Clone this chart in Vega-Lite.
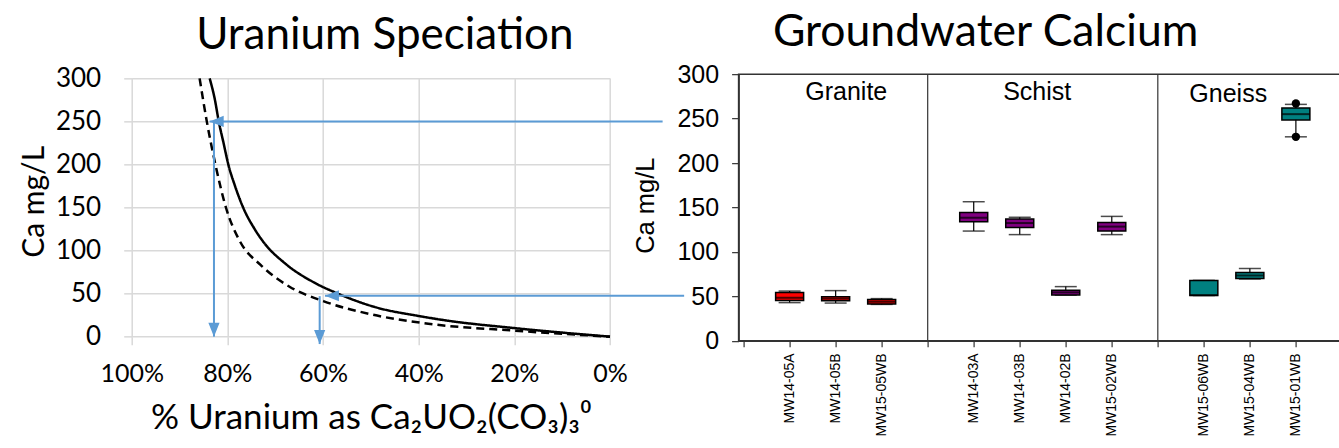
{
  "$schema": "https://vega.github.io/schema/vega-lite/v6.json",
  "autosize": {"type": "none"},
  "padding": {"left": 131.7, "top": 74, "right": 1207.3, "bottom": 374},
  "background": "white",
  "spacing": 127.9,
  "bounds": "flush",
  "center": true,
  "config": {"font": "Lato", "view": {"stroke": null}},
  "datasets": {
    "curves": [
      {"series": "solid", "pct": 83.7, "ca": 300},
      {"series": "solid", "pct": 82.6, "ca": 275},
      {"series": "solid", "pct": 81.8, "ca": 250},
      {"series": "solid", "pct": 80.8, "ca": 225},
      {"series": "solid", "pct": 79.8, "ca": 200},
      {"series": "solid", "pct": 78.4, "ca": 175},
      {"series": "solid", "pct": 76.7, "ca": 150},
      {"series": "solid", "pct": 74.3, "ca": 125},
      {"series": "solid", "pct": 72.6, "ca": 111},
      {"series": "solid", "pct": 67.7, "ca": 84},
      {"series": "solid", "pct": 61.9, "ca": 63},
      {"series": "solid", "pct": 56.9, "ca": 50},
      {"series": "solid", "pct": 48.9, "ca": 34},
      {"series": "solid", "pct": 40, "ca": 24},
      {"series": "solid", "pct": 34.5, "ca": 19},
      {"series": "solid", "pct": 20.1, "ca": 10},
      {"series": "solid", "pct": 0, "ca": 0},
      {"series": "dashed", "pct": 85.8, "ca": 300},
      {"series": "dashed", "pct": 84.3, "ca": 250},
      {"series": "dashed", "pct": 82.5, "ca": 200},
      {"series": "dashed", "pct": 80.3, "ca": 150},
      {"series": "dashed", "pct": 77.4, "ca": 111},
      {"series": "dashed", "pct": 73, "ca": 83},
      {"series": "dashed", "pct": 67, "ca": 58},
      {"series": "dashed", "pct": 59.8, "ca": 41},
      {"series": "dashed", "pct": 50, "ca": 26},
      {"series": "dashed", "pct": 38, "ca": 15},
      {"series": "dashed", "pct": 20.1, "ca": 7},
      {"series": "dashed", "pct": 0, "ca": 0}
    ],
    "arrowlines": [
      {"pct": -11, "pct2": 83.7, "ca": 250, "ca2": 250},
      {"pct": -15.5, "pct2": 59.6, "ca": 47.5, "ca2": 47.5},
      {"pct": 82.8, "pct2": 82.8, "ca": 250, "ca2": 0},
      {"pct": 60.7, "pct2": 60.7, "ca": 47, "ca2": -8.6}
    ],
    "heads": [
      {"pct": 83.7, "ca": 250, "dir": "left"},
      {"pct": 59.6, "ca": 47.5, "dir": "left"},
      {"pct": 82.8, "ca": 0, "dir": "down"},
      {"pct": 60.7, "ca": -8.6, "dir": "down"}
    ],
    "boxes": [
      {"well": "MW14-05A", "pos": 1, "rock": "Granite", "min": 43, "q1": 45.5, "med": 48.5, "q3": 54.5, "max": 56},
      {"well": "MW14-05B", "pos": 2, "rock": "Granite", "min": 42.5, "q1": 45, "med": 47.5, "q3": 49.5, "max": 56.5},
      {"well": "MW15-05WB", "pos": 3, "rock": "Granite", "min": 41, "q1": 41.5, "med": 44, "q3": 46.5, "max": 47.5},
      {"well": "MW14-03A", "pos": 5, "rock": "Schist", "min": 123.5, "q1": 134, "med": 138.5, "q3": 144.5, "max": 156.5},
      {"well": "MW14-03B", "pos": 6, "rock": "Schist", "min": 119.5, "q1": 127.5, "med": 132.5, "q3": 137, "max": 139},
      {"well": "MW14-02B", "pos": 7, "rock": "Schist", "min": 51.5, "q1": 51.7, "med": 54.5, "q3": 57, "max": 61},
      {"well": "MW15-02WB", "pos": 8, "rock": "Schist", "min": 119.5, "q1": 123.5, "med": 128.5, "q3": 133, "max": 140},
      {"well": "MW15-06WB", "pos": 10, "rock": "Gneiss", "min": 51, "q1": 51, "med": 51.5, "q3": 68, "max": 68},
      {"well": "MW15-04WB", "pos": 11, "rock": "Gneiss", "min": 69.5, "q1": 70, "med": 73.5, "q3": 77, "max": 81.5},
      {"well": "MW15-01WB", "pos": 12, "rock": "Gneiss", "min": 229.5, "q1": 248.5, "med": 255, "q3": 262, "max": 266}
    ],
    "outliers": [
      {"pos": 12, "val": 267},
      {"pos": 12, "val": 229.5}
    ],
    "seps": [{"pos": 4}, {"pos": 9}],
    "panels": [
      {"rock": "Granite", "pos": 2.23, "val": 271},
      {"rock": "Schist", "pos": 6.38, "val": 271},
      {"rock": "Gneiss", "pos": 10.53, "val": 269}
    ]
  },
  "hconcat": [
    {
      "width": 478.3,
      "height": 258.3,
      "title": {"text": "Uranium Speciation", "font": "Lato", "fontSize": 44, "fontWeight": "normal", "color": "black", "anchor": "middle", "frame": "group", "dx": 14, "offset": 7},
      "layer": [
        {
          "data": {"name": "curves"},
          "mark": {"type": "line", "interpolate": "monotone", "strokeWidth": 2.5, "color": "black"},
          "encoding": {
            "x": {"field": "pct", "type": "quantitative", "title": "% Uranium as Ca₂UO₂(CO₃)₃⁰",
              "scale": {"domain": [0, 100], "reverse": true, "nice": false},
              "axis": {"values": [0, 20, 40, 60, 80, 100], "labelExpr": "datum.value + '%'", "labelFlush": false, "labelOverlap": false,
                "grid": true, "gridColor": "#d9d9d9", "gridWidth": 1.5, "domain": false,
                "tickColor": "#d9d9d9", "tickWidth": 1.5, "tickSize": 8,
                "labelFont": "Lato", "labelFontSize": 25, "labelColor": "black", "labelBaseline": "alphabetic", "labelPadding": 37,
                "titleFont": "Lato", "titleFontSize": 35, "titleFontWeight": "normal", "titleColor": "black",
                "titleBaseline": "alphabetic", "titleY": 92}},
            "y": {"field": "ca", "type": "quantitative", "title": "Ca mg/L",
              "scale": {"domain": [0, 300], "nice": false},
              "axis": {"values": [0, 50, 100, 150, 200, 250, 300], "labelOverlap": false,
                "grid": true, "gridColor": "#d9d9d9", "gridWidth": 1.5, "domain": false,
                "tickColor": "#d9d9d9", "tickWidth": 1.5, "tickSize": 8,
                "labelFont": "Lato", "labelFontSize": 26, "labelColor": "black", "labelPadding": 23,
                "titleFont": "Lato", "titleFontSize": 30, "titleFontWeight": "normal", "titleColor": "black",
                "titleBaseline": "alphabetic", "titleAlign": "center", "titleX": -88.4, "titleY": 123}},
            "strokeDash": {"field": "series", "type": "nominal", "scale": {"domain": ["solid", "dashed"], "range": [[1, 0], [8, 5]]}, "legend": null}
          }
        },
        {
          "data": {"name": "arrowlines"},
          "mark": {"type": "rule", "color": "#5b9bd5", "strokeWidth": 2},
          "encoding": {
            "x": {"field": "pct", "type": "quantitative", "title": "% Uranium as Ca₂UO₂(CO₃)₃⁰"},
            "x2": {"field": "pct2"},
            "y": {"field": "ca", "type": "quantitative", "title": "Ca mg/L"},
            "y2": {"field": "ca2"}
          }
        },
        {
          "data": {"name": "heads"},
          "transform": [{"filter": "datum.dir === 'left'"}],
          "mark": {"type": "point", "filled": true, "opacity": 1, "color": "#5b9bd5", "shape": "M-1,0L1,-0.8L1,0.8Z", "size": 196, "xOffset": 7},
          "encoding": {
            "x": {"field": "pct", "type": "quantitative", "title": "% Uranium as Ca₂UO₂(CO₃)₃⁰"},
            "y": {"field": "ca", "type": "quantitative", "title": "Ca mg/L"}
          }
        },
        {
          "data": {"name": "heads"},
          "transform": [{"filter": "datum.dir === 'down'"}],
          "mark": {"type": "point", "filled": true, "opacity": 1, "color": "#5b9bd5", "shape": "M0,1L-0.8,-1L0.8,-1Z", "size": 196, "yOffset": -7},
          "encoding": {
            "x": {"field": "pct", "type": "quantitative", "title": "% Uranium as Ca₂UO₂(CO₃)₃⁰"},
            "y": {"field": "ca", "type": "quantitative", "title": "Ca mg/L"}
          }
        }
      ]
    },
    {
      "width": 602,
      "height": 266.7,
      "title": {"text": "Groundwater Calcium", "font": "Lato", "fontSize": 44.5, "fontWeight": "normal", "color": "black", "anchor": "middle", "frame": "group", "dx": -54, "offset": 7},
      "view": {"stroke": "#333", "strokeWidth": 1.5},
      "layer": [
        {
          "data": {"name": "seps"},
          "mark": {"type": "rule", "color": "#333", "strokeWidth": 1.2},
          "encoding": {
            "x": {"field": "pos", "type": "quantitative", "title": null,
              "scale": {"domain": [0, 12.863], "nice": false, "zero": false},
              "axis": {"values": [0, 1, 2, 3, 4, 5, 6, 7, 8, 9, 10, 11, 12],
                "labelExpr": "['', 'MW14-05A', 'MW14-05B', 'MW15-05WB', '', 'MW14-03A', 'MW14-03B', 'MW14-02B', 'MW15-02WB', '', 'MW15-06WB', 'MW15-04WB', 'MW15-01WB'][datum.value]",
                "labelAngle": 270, "labelFont": "Liberation Sans", "labelFontSize": 14, "labelColor": "black", "labelPadding": 6,
                "labelFlush": false, "labelOverlap": false, "grid": false,
                "domainColor": "#333", "domainWidth": 1.5, "tickColor": "#333", "tickWidth": 1.2, "tickSize": 6}}
          }
        },
        {
          "data": {"name": "boxes"},
          "mark": {"type": "rule", "color": "black", "strokeWidth": 1.2},
          "encoding": {
            "x": {"field": "pos", "type": "quantitative", "title": null},
            "y": {"field": "min", "type": "quantitative", "title": "Ca mg/L",
              "scale": {"domain": [0, 300], "nice": false},
              "axis": {"values": [0, 50, 100, 150, 200, 250, 300], "labelOverlap": false, "grid": false,
                "domainColor": "#333", "domainWidth": 1.5, "tickColor": "#333", "tickWidth": 1.2, "tickSize": 7,
                "labelFont": "Liberation Sans", "labelFontSize": 25, "labelColor": "black", "labelPadding": 13,
                "titleFont": "Liberation Sans", "titleFontSize": 25.5, "titleFontWeight": "normal", "titleColor": "black",
                "titleBaseline": "alphabetic", "titleAlign": "center", "titleX": -85.3, "titleY": 131}},
            "y2": {"field": "max"}
          }
        },
        {
          "data": {"name": "boxes"},
          "mark": {"type": "tick", "orient": "horizontal", "color": "black", "size": 22, "thickness": 1.5},
          "encoding": {
            "x": {"field": "pos", "type": "quantitative", "title": null},
            "y": {"field": "min", "type": "quantitative", "title": "Ca mg/L"}
          }
        },
        {
          "data": {"name": "boxes"},
          "mark": {"type": "tick", "orient": "horizontal", "color": "black", "size": 22, "thickness": 1.5},
          "encoding": {
            "x": {"field": "pos", "type": "quantitative", "title": null},
            "y": {"field": "max", "type": "quantitative", "title": "Ca mg/L"}
          }
        },
        {
          "data": {"name": "boxes"},
          "mark": {"type": "bar", "width": 28, "stroke": "black", "strokeWidth": 1.5},
          "encoding": {
            "x": {"field": "pos", "type": "quantitative", "title": null},
            "y": {"field": "q1", "type": "quantitative", "title": "Ca mg/L"},
            "y2": {"field": "q3"},
            "color": {"field": "rock", "type": "nominal", "scale": {"domain": ["Granite", "Schist", "Gneiss"], "range": ["#ff0000", "#800080", "#008080"]}, "legend": null}
          }
        },
        {
          "data": {"name": "boxes"},
          "mark": {"type": "tick", "orient": "horizontal", "color": "black", "size": 28, "thickness": 2},
          "encoding": {
            "x": {"field": "pos", "type": "quantitative", "title": null},
            "y": {"field": "med", "type": "quantitative", "title": "Ca mg/L"}
          }
        },
        {
          "data": {"name": "outliers"},
          "mark": {"type": "circle", "color": "black", "opacity": 1, "size": 70},
          "encoding": {
            "x": {"field": "pos", "type": "quantitative", "title": null},
            "y": {"field": "val", "type": "quantitative", "title": "Ca mg/L"}
          }
        },
        {
          "data": {"name": "panels"},
          "mark": {"type": "text", "font": "Liberation Sans", "fontSize": 25, "color": "black", "baseline": "alphabetic", "align": "center"},
          "encoding": {
            "x": {"field": "pos", "type": "quantitative", "title": null},
            "y": {"field": "val", "type": "quantitative", "title": "Ca mg/L"},
            "text": {"field": "rock"}
          }
        }
      ]
    }
  ]
}
